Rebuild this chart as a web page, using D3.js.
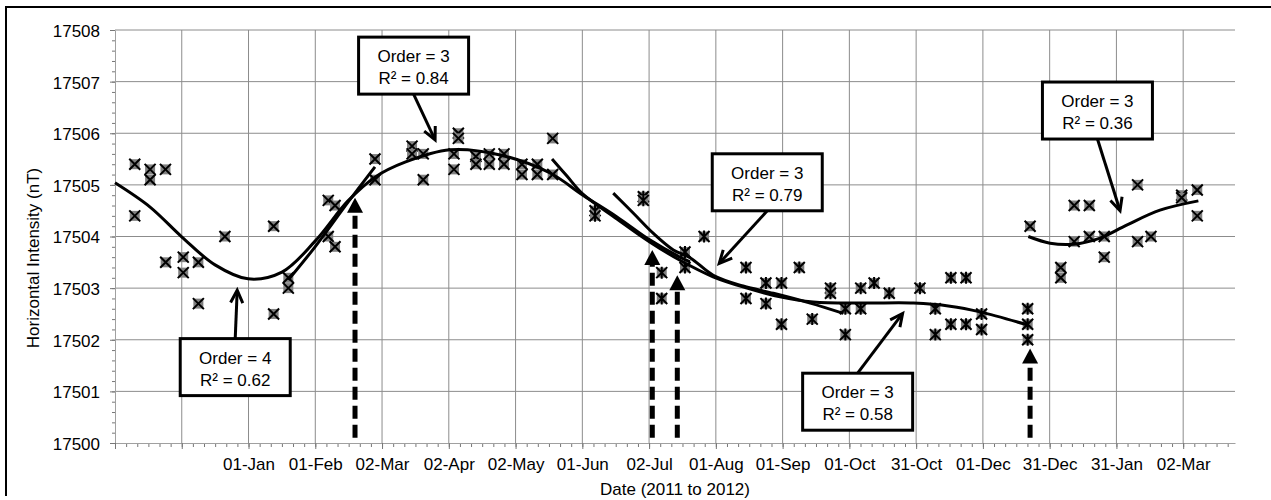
<!DOCTYPE html>
<html>
<head>
<meta charset="utf-8">
<script src="https://cdn.jsdelivr.net/npm/d3@7"></script>
<style>
  body { margin: 0; background: #fff; }
  text { font-family: "Liberation Sans", Arial, sans-serif; }
</style>
</head>
<body>
<div id="chart"></div>
<script>
// x values are days counted from the start of the axis (about 01-Nov-2010)
const tickStep = 30.43;
const xMax = 510.5;
const tickLabels = ["", "", "01-Jan", "01-Feb", "02-Mar", "02-Apr", "02-May", "01-Jun", "02-Jul",
    "01-Aug", "01-Sep", "01-Oct", "31-Oct", "01-Dec", "31-Dec", "31-Jan", "02-Mar"];
const yTicks = [17500, 17501, 17502, 17503, 17504, 17505, 17506, 17507, 17508];

// daily points, [day, nT]
const crossPoints = [
    [9, 17505.4], [16, 17505.3], [23, 17505.3], [16, 17505.1], [9, 17504.4],
    [23.1, 17503.5], [31.1, 17503.6], [38, 17503.5], [31.1, 17503.3], [38, 17502.7],
    [50.1, 17504.0], [72.3, 17504.2], [72.3, 17502.5], [79, 17503.2], [79, 17503.0],
    [97.2, 17504.7], [100.3, 17504.6], [97.2, 17504.0], [100.3, 17503.8],
    [118.5, 17505.5], [118.5, 17505.1], [135.4, 17505.75], [135.4, 17505.6],
    [140.5, 17505.6], [140.5, 17505.1], [156.5, 17506.0], [156.5, 17505.9],
    [154.5, 17505.6], [154.5, 17505.3], [164.5, 17505.55], [164.5, 17505.4],
    [170.6, 17505.6], [170.6, 17505.4], [177.3, 17505.6], [177.3, 17505.4],
    [185.5, 17505.4], [185.5, 17505.2], [192.5, 17505.4], [192.5, 17505.2],
    [199.5, 17505.9], [199.5, 17505.2],
    [417.1, 17504.2], [431.1, 17503.4], [431.1, 17503.2], [437.2, 17504.6], [444.1, 17504.6],
    [437.2, 17503.9], [444.1, 17504.0], [450.9, 17504.0], [450.9, 17503.6],
    [466.1, 17505.0], [466.1, 17503.9], [472.2, 17504.0], [486.2, 17504.8], [486.2, 17504.75],
    [493.3, 17504.9], [493.3, 17504.4]
];
const starPoints = [
    [218.8, 17504.5], [218.8, 17504.4], [240.8, 17504.77], [240.8, 17504.7],
    [249.2, 17503.3], [249.2, 17502.8], [259.8, 17503.7], [259.8, 17503.4], [268.5, 17504.0],
    [287.6, 17503.4], [287.6, 17502.8], [296.7, 17503.1], [296.7, 17502.7],
    [303.8, 17503.1], [303.8, 17502.3], [311.9, 17503.4], [317.8, 17502.4],
    [326.1, 17503.0], [326.1, 17502.9], [332.9, 17502.6], [332.9, 17502.1],
    [339.9, 17503.0], [339.9, 17502.6], [346.0, 17503.1], [352.9, 17502.9],
    [366.9, 17503.0], [373.9, 17502.6], [373.9, 17502.1], [381.0, 17503.2], [381.0, 17502.3],
    [387.9, 17503.2], [387.9, 17502.3], [395.0, 17502.5], [395.0, 17502.2],
    [416.0, 17502.6], [416.0, 17502.3], [416.0, 17502.0]
];

// polynomial trend lines
const trendA = [[0, 17505.04], [16, 17504.57], [30.5, 17503.99], [45.6, 17503.45], [60.6, 17503.18],
    [76.1, 17503.31], [91.2, 17503.91], [106.2, 17504.69], [118.5, 17505.15], [132.2, 17505.44],
    [152.7, 17505.68], [175.5, 17505.58], [198.3, 17505.23], [213.3, 17504.8], [228.8, 17504.38],
    [243.9, 17503.93], [257.5, 17503.6], [262.1, 17503.51]];
const trendB = [[79, 17503.16], [91.2, 17503.8], [106.3, 17504.67], [118.5, 17505.35]];
const trendC = [[199.2, 17505.5], [206, 17505.17], [213.3, 17504.82], [228.8, 17504.34],
    [243.9, 17503.89], [257.5, 17503.54], [272.6, 17503.22], [288.1, 17503.0], [303.1, 17502.83],
    [318.2, 17502.73], [341, 17502.71], [364, 17502.71], [380.6, 17502.65], [394.3, 17502.54],
    [415.7, 17502.29]];
const trendD = [[227.1, 17504.84], [236.3, 17504.45], [245.4, 17504.06], [254.5, 17503.74],
    [262.1, 17503.59], [272.7, 17503.25], [286.3, 17503.04], [300.1, 17502.9], [316.9, 17502.71],
    [332, 17502.51]];
const trendE = [[416.3, 17504.0], [426.2, 17503.87], [436.8, 17503.85], [449, 17503.97],
    [461.1, 17504.22], [476.3, 17504.51], [493.8, 17504.69]];

// callouts
const noteOrders = [4, 3, 3, 3, 3];
const noteR2 = ["0.62", "0.84", "0.79", "0.58", "0.36"];
const noteBoxDay = [54.8, 136.1, 297.3, 338.5, 447.8];
const noteBoxValue = [17501.47, 17507.31, 17505.05, 17500.80, 17506.44];
const noteTipDay = [55.7, 145.9, 275.4, 359.0, 458.1];
const noteTipValue = [17502.96, 17505.87, 17503.48, 17502.51, 17504.50];

// events (dashed arrows)
const eventDays = [109.4, 244.9, 256.3, 417.1];
const eventTipValues = [17504.75, 17503.74, 17503.25, 17501.83];

const width = 1271, height = 500;

const x = d3.scaleLinear().domain([0, xMax]).range([115, 1235]);
const y = d3.scaleLinear().domain([17500, 17508]).range([443, 30]);

const svg = d3.select("#chart").append("svg")
    .attr("width", width)
    .attr("height", height)
    .style("display", "block");

// frame
svg.append("path")
    .attr("d", "M6,496V7H1271")
    .attr("fill", "none")
    .attr("stroke", "#000")
    .attr("stroke-width", 2);

const majorDays = tickLabels.map((d, i) => i * tickStep);

// grid
svg.append("g").selectAll("line")
    .data(majorDays.slice(1))
    .join("line")
    .attr("x1", d => x(d)).attr("x2", d => x(d))
    .attr("y1", y(17508)).attr("y2", y(17500))
    .attr("stroke", "#8c8c8c");

svg.append("g").selectAll("line")
    .data(yTicks.slice(1))
    .join("line")
    .attr("x1", x(0)).attr("x2", x(xMax))
    .attr("y1", d => y(d)).attr("y2", d => y(d))
    .attr("stroke", "#8c8c8c");

// axes
const yMinor = svg.append("g")
    .attr("transform", "translate(115,0)")
    .call(d3.axisLeft(y).tickValues(d3.range(0, 41).map(i => 17500 + i * 0.2)).tickSize(3).tickSizeOuter(0).tickFormat(""));
yMinor.select(".domain").remove();
yMinor.selectAll("line").attr("stroke", "#777");

const yAxis = svg.append("g")
    .attr("transform", "translate(115,0)")
    .call(d3.axisLeft(y).tickValues(yTicks).tickSize(5).tickSizeOuter(0).tickPadding(10).tickFormat(d3.format("d")));
yAxis.select(".domain").attr("stroke", "#a0a0a0");
yAxis.selectAll("line").attr("stroke", "#777");
yAxis.selectAll("text").attr("font-size", 17).attr("fill", "#000").attr("dy", "0.38em")
    .style("font-family", "'Liberation Sans', Arial, sans-serif");

const xMinor = svg.append("g")
    .attr("transform", "translate(0,443)")
    .call(d3.axisBottom(x).tickValues(d3.range(0, 101).map(i => i * tickStep / 6).filter(d => d <= xMax)).tickSize(4).tickSizeOuter(0).tickFormat(""));
xMinor.select(".domain").remove();
xMinor.selectAll("line").attr("stroke", "#777");

const xAxis = svg.append("g")
    .attr("transform", "translate(0,443)")
    .call(d3.axisBottom(x).tickValues(majorDays).tickSize(6).tickSizeOuter(0).tickPadding(9).tickFormat((d, i) => tickLabels[i]));
xAxis.select(".domain").attr("stroke", "#a0a0a0");
xAxis.selectAll("line").attr("stroke", "#777");
xAxis.selectAll("text").attr("font-size", 17).attr("fill", "#000")
    .style("font-family", "'Liberation Sans', Arial, sans-serif");

// axis titles
svg.append("text")
    .attr("transform", "translate(39,258) rotate(-90)")
    .attr("text-anchor", "middle")
    .attr("font-size", 17)
    .text("Horizontal Intensity (nT)");

svg.append("text")
    .attr("x", 675)
    .attr("y", 495)
    .attr("text-anchor", "middle")
    .attr("font-size", 17)
    .text("Date (2011 to 2012)");

// points
function drawMarkers(data, star) {
    const g = svg.append("g").selectAll("g")
        .data(data)
        .join("g")
        .attr("transform", d => `translate(${x(d[0])},${y(d[1])})`);
    g.append("rect")
        .attr("x", -5).attr("y", -5)
        .attr("width", 10).attr("height", 10)
        .attr("fill", "#808080");
    g.append("path")
        .attr("d", star ? "M-5.5,-5.5L5.5,5.5M-5.5,5.5L5.5,-5.5M0,-6V6" : "M-5.5,-5.5L5.5,5.5M-5.5,5.5L5.5,-5.5")
        .attr("stroke", "#000")
        .attr("stroke-width", 2)
        .attr("fill", "none");
}
drawMarkers(crossPoints, false);
drawMarkers(starPoints, true);

// trend lines
const line = d3.line()
    .x(d => x(d[0]))
    .y(d => y(d[1]))
    .curve(d3.curveCatmullRom);

svg.append("g").selectAll("path")
    .data([trendA, trendB, trendC, trendD, trendE])
    .join("path")
    .attr("d", line)
    .attr("fill", "none")
    .attr("stroke", "#000")
    .attr("stroke-width", 3);

// event arrows
eventDays.forEach((day, i) => {
    const ex = x(day);
    const tip = y(eventTipValues[i]);
    svg.append("line")
        .attr("x1", ex).attr("x2", ex)
        .attr("y1", y(17500.1)).attr("y2", tip + 13)
        .attr("stroke", "#000")
        .attr("stroke-width", 5)
        .attr("stroke-dasharray", "13,6");
    svg.append("path")
        .attr("d", `M${ex},${tip}L${ex + 8},${tip + 15}L${ex - 8},${tip + 15}Z`)
        .attr("fill", "#000");
});

// callouts
const boxW = 110, boxH = 57;
noteOrders.forEach((order, i) => {
    const cx = x(noteBoxDay[i]);
    const cy = y(noteBoxValue[i]);
    const tx = x(noteTipDay[i]);
    const ty = y(noteTipValue[i]);
    const sy = ty > cy ? cy + boxH / 2 : cy - boxH / 2;

    const dx = tx - cx, dy = ty - sy;
    const len = Math.hypot(dx, dy);
    const ux = dx / len, uy = dy / len;
    const a = 0.45, hl = 14;
    const p1 = [tx - hl * (ux * Math.cos(a) - uy * Math.sin(a)), ty - hl * (uy * Math.cos(a) + ux * Math.sin(a))];
    const p2 = [tx - hl * (ux * Math.cos(-a) - uy * Math.sin(-a)), ty - hl * (uy * Math.cos(-a) + ux * Math.sin(-a))];

    svg.append("line")
        .attr("x1", cx).attr("y1", sy)
        .attr("x2", tx - ux * 1.5).attr("y2", ty - uy * 1.5)
        .attr("stroke", "#000")
        .attr("stroke-width", 3);
    svg.append("path")
        .attr("d", `M${p1[0]},${p1[1]}L${tx},${ty}L${p2[0]},${p2[1]}`)
        .attr("fill", "none")
        .attr("stroke", "#000")
        .attr("stroke-width", 3);

    svg.append("rect")
        .attr("x", cx - boxW / 2).attr("y", cy - boxH / 2)
        .attr("width", boxW).attr("height", boxH)
        .attr("fill", "#fff")
        .attr("stroke", "#000")
        .attr("stroke-width", 3);
    svg.append("text")
        .attr("x", cx).attr("y", cy - 3.5)
        .attr("text-anchor", "middle")
        .attr("font-size", 17)
        .text("Order = " + order);
    svg.append("text")
        .attr("x", cx).attr("y", cy + 18.5)
        .attr("text-anchor", "middle")
        .attr("font-size", 17)
        .text("R² = " + noteR2[i]);
});
</script>
</body>
</html>
